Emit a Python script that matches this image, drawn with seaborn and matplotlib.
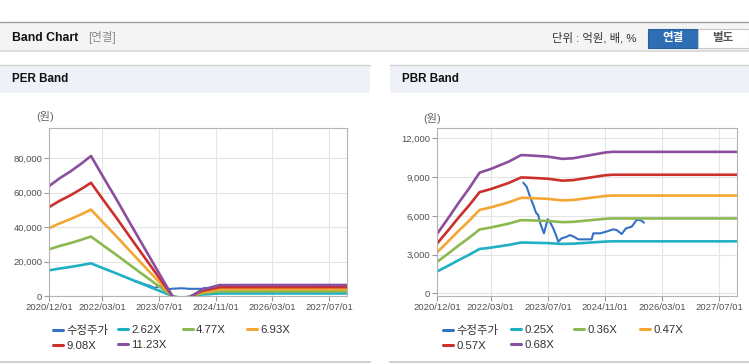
import numpy as np
import pandas as pd
import seaborn as sns
import matplotlib.pyplot as plt
from matplotlib.patches import Rectangle
from matplotlib.lines import Line2D

W, H = 749, 364

# PER band: EPS (band = multiple x EPS)
per_dates = ['2020-12-01', '2021-03-01', '2021-06-01', '2021-09-01', '2021-11-24', '2022-03-01',
             '2022-07-01', '2022-11-01', '2023-03-01', '2023-07-01', '2023-10-23', '2024-01-15',
             '2024-04-06', '2024-07-01', '2024-09-10', '2024-12-01', '2027-12-01']
per_eps = [5700, 6100, 6450, 6850, 7250, 6240, 5000, 3700, 2450, 1180, 0, -450,
           0, 320, 430, 565, 570]
per_mult = [2.62, 4.77, 6.93, 9.08, 11.23]
per_labels = ['2.62X', '4.77X', '6.93X', '9.08X', '11.23X']

# PBR band: BPS
pbr_dates = ['2020-12-01', '2021-03-01', '2021-06-01', '2021-09-01', '2021-11-26', '2022-03-01',
             '2022-08-01', '2022-11-15', '2023-01-15', '2023-07-01', '2023-11-01', '2024-02-01',
             '2024-07-01', '2024-11-01', '2025-01-01', '2027-12-01']
pbr_bps = [6800, 8500, 10300, 12000, 13735, 14150, 14985, 15735, 15700, 15560, 15300, 15370,
           15735, 16030, 16100, 16100]
pbr_mult = [0.25, 0.36, 0.47, 0.57, 0.68]
pbr_labels = ['0.25X', '0.36X', '0.47X', '0.57X', '0.68X']

# 수정주가
price_dates = ['2022-12-03', '2023-01-01', '2023-01-30', '2023-02-27', '2023-03-22', '2023-04-10',
               '2023-04-25', '2023-05-29', '2023-06-29', '2023-07-25', '2023-08-16', '2023-09-08',
               '2023-09-28', '2023-10-27', '2023-12-08', '2024-01-05', '2024-02-08', '2024-03-16',
               '2024-05-27', '2024-07-08', '2024-07-22', '2024-09-17', '2024-11-07', '2025-01-08',
               '2025-02-06', '2025-03-21', '2025-04-26', '2025-06-14', '2025-07-26', '2025-08-18',
               '2025-09-07', '2025-09-27']
price = [8565, 8255, 7480, 6835, 6240, 6060, 5470, 4645, 5730, 5420, 5030, 4510,
         4000, 4260, 4380, 4510, 4380, 4180, 4180, 4180, 4645, 4645, 4770, 4955,
         4900, 4590, 5030, 5155, 5675, 5675, 5620, 5465]

tick_dates = ['2020-12-01', '2022-03-01', '2023-07-01', '2024-11-01', '2026-03-01', '2027-07-01']
tick_labels = ['2020/12/01', '2022/03/01', '2023/07/01', '2024/11/01', '2026/03/01', '2027/07/01']

PRICE_COLOR = '#3571c5'
BAND_COLORS = ['#1fb0c4', '#8cb94f', '#f4a634', '#cb302c', '#8c4e9e']

sns.set_theme(style='white')
plt.rcParams['font.family'] = ['Liberation Sans', 'Noto Sans CJK KR']

fig = plt.figure(figsize=(W / 100, H / 100), dpi=100)
bg = fig.add_axes([0, 0, 1, 1])
bg.set_xlim(0, W)
bg.set_ylim(H, 0)
bg.axis('off')


def px_axes(x0, y0, x1, y1):
    return fig.add_axes([x0 / W, 1 - y1 / H, (x1 - x0) / W, (y1 - y0) / H])


def draw_band(ax, dates, base, mults, labels, ylim, yticks):
    sns.lineplot(x=pd.to_datetime(price_dates), y=price, ax=ax, color=PRICE_COLOR, lw=1.5)
    bands = pd.DataFrame({
        'date': np.tile(pd.to_datetime(dates).values, len(mults)),
        'value': np.outer(mults, base).ravel(),
        'band': np.repeat(labels, len(dates)),
    })
    sns.lineplot(data=bands, x='date', y='value', hue='band', hue_order=labels,
                 palette=BAND_COLORS, lw=1.9, legend=False, ax=ax)
    ax.set_xlim(pd.Timestamp('2020-12-01'), pd.Timestamp('2027-12-01'))
    ax.set_ylim(*ylim)
    ax.set_xticks(pd.to_datetime(tick_dates))
    ax.set_xticklabels(tick_labels)
    ax.set_yticks(yticks)
    ax.set_yticklabels([f'{v:,}' for v in yticks])
    ax.set_xlabel('')
    ax.set_ylabel('')
    ax.grid(True, color='#e4e4e4', lw=0.8)
    ax.set_axisbelow(True)
    for s in ax.spines.values():
        s.set_color('#b4b4b4')
        s.set_linewidth(0.8)
    ax.tick_params(axis='both', labelsize=6.8, labelcolor='#505050', color='#999999',
                   bottom=True, left=True, length=3.5, width=0.8, pad=1.5)


def add_legend(entries, xs, y_top):
    for c, x in enumerate(xs):
        items = entries[c::4]
        handles = [Line2D([], [], color=col, lw=2.2) for _, col in items]
        fig.legend(handles, [lab for lab, _ in items], loc='upper left',
                   bbox_to_anchor=(x / W, 1 - y_top / H), frameon=False, fontsize=8.2,
                   handlelength=0.85, handletextpad=0.3, labelspacing=0.4,
                   borderpad=0, borderaxespad=0, labelcolor='#333333')


# header bar
bg.add_patch(Rectangle((0, 22), W, 28, fc='#f4f4f4', ec='none'))
bg.plot([0, W], [22, 22], color='#a0a0a0', lw=1)
bg.plot([0, W], [50.5, 50.5], color='#d6d6d6', lw=1.2)
bg.text(12, 38, 'Band Chart', fontsize=8.8, fontweight='bold', va='center', color='#111111')
bg.text(88, 38, '[연결]', fontsize=8.3, va='center', color='#8a8a8a')
bg.text(552, 38, '단위 : 억원, 배, %', fontsize=8.2, va='center', color='#333333')
bg.add_patch(Rectangle((648, 29), 50, 19, fc='#2f6db5', ec='#2a619f', lw=0.8))
bg.add_patch(Rectangle((698, 29), 51, 19, fc='white', ec='#c8c8c8', lw=0.8))
bg.text(673, 38.5, '연결', fontsize=8.3, fontweight='bold', ha='center', va='center', color='white')
bg.text(723, 38.5, '별도', fontsize=8.3, fontweight='bold', ha='center', va='center', color='#555555')

# panel headers
for x0, x1, title in [(0, 370, 'PER Band'), (390, W, 'PBR Band')]:
    bg.add_patch(Rectangle((x0, 64.5), x1 - x0, 28, fc='#eef2f8', ec='none'))
    bg.plot([x0, x1], [64.5, 64.5], color='#d2d2d2', lw=1)
    bg.plot([x0, x1], [362, 362], color='#d2d2d2', lw=1.5)
    bg.text(x0 + 12, 79.5, title, fontsize=8.4, fontweight='bold', va='center', color='#111111')

bg.text(45, 117, '(원)', fontsize=8, ha='center', va='center', color='#666666')
bg.text(432, 118, '(원)', fontsize=8, ha='center', va='center', color='#666666')

ax1 = px_axes(49.3, 128.3, 347, 296)
draw_band(ax1, per_dates, per_eps, per_mult, per_labels, (0, 97500),
          [0, 20000, 40000, 60000, 80000])

ax2 = px_axes(437.3, 128.3, 737.3, 295.7)
draw_band(ax2, pbr_dates, pbr_bps, pbr_mult, pbr_labels, (-180, 12770),
          [0, 3000, 6000, 9000, 12000])

per_entries = [('수정주가', PRICE_COLOR)] + list(zip(per_labels, BAND_COLORS))
pbr_entries = [('수정주가', PRICE_COLOR)] + list(zip(pbr_labels, BAND_COLORS))
add_legend(per_entries, [53, 118, 183, 247], 325)
add_legend(pbr_entries, [443, 511, 574, 640], 325)

fig.savefig('out.png', dpi=100)
